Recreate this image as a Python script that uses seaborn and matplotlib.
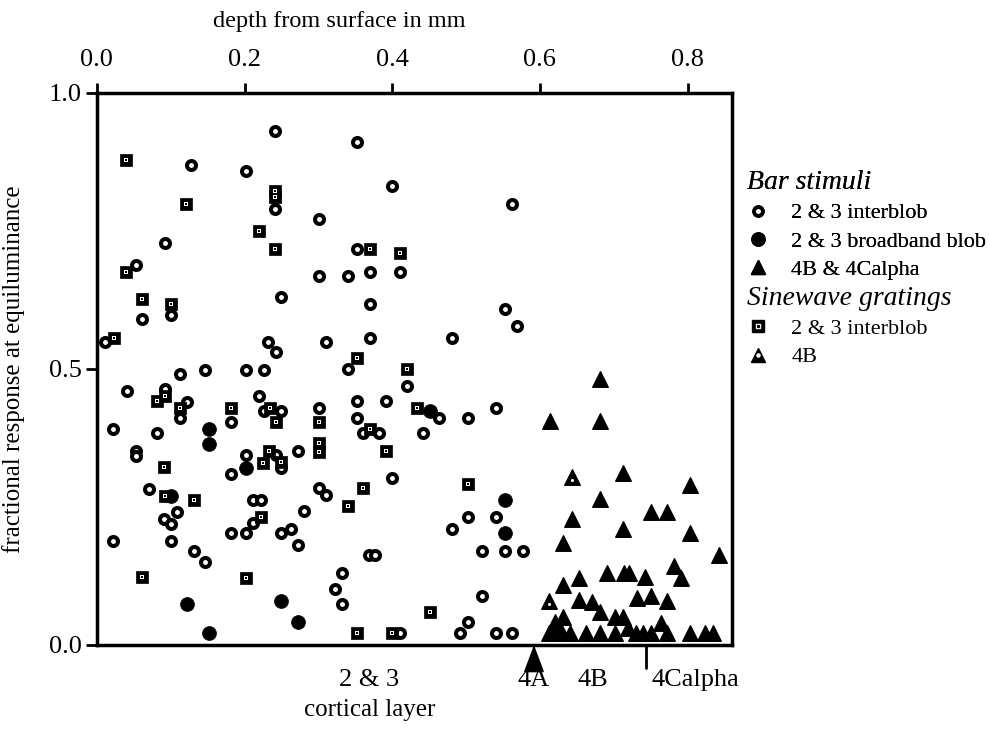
import pandas as pd
import seaborn as sns
import matplotlib.pyplot as plt
from matplotlib.lines import Line2D

# depth from surface (mm) and fractional response at equiluminance
bar_interblob_x = [0.241, 0.127, 0.202, 0.241, 0.092, 0.053, 0.250, 0.100, 0.061, 0.011, 0.232, 0.242,
                   0.112, 0.146, 0.202, 0.226, 0.041, 0.092, 0.122, 0.112, 0.182, 0.022, 0.082, 0.220,
                   0.226, 0.250, 0.053, 0.053, 0.202, 0.242, 0.250, 0.272, 0.182, 0.070, 0.212, 0.222,
                   0.281, 0.109, 0.091, 0.100, 0.212, 0.182, 0.202, 0.250, 0.263, 0.272, 0.022, 0.100,
                   0.131, 0.146,
                   0.352, 0.400, 0.562, 0.301, 0.352, 0.301, 0.340, 0.370, 0.411, 0.370, 0.553, 0.569,
                   0.310, 0.370, 0.481, 0.340, 0.420, 0.352, 0.391, 0.301, 0.463, 0.502, 0.541, 0.352,
                   0.361, 0.382, 0.442, 0.400, 0.301, 0.310, 0.502, 0.541, 0.481, 0.522, 0.553, 0.577,
                   0.369, 0.377, 0.332, 0.322, 0.332, 0.522, 0.502, 0.492, 0.541, 0.562, 0.411]
bar_interblob_y = [0.931, 0.870, 0.859, 0.789, 0.729, 0.688, 0.630, 0.597, 0.590, 0.549, 0.549, 0.530,
                   0.490, 0.498, 0.498, 0.498, 0.461, 0.463, 0.441, 0.412, 0.404, 0.391, 0.384, 0.451,
                   0.424, 0.423, 0.351, 0.342, 0.344, 0.344, 0.321, 0.351, 0.310, 0.283, 0.263, 0.263,
                   0.243, 0.241, 0.229, 0.220, 0.221, 0.202, 0.202, 0.202, 0.210, 0.181, 0.189, 0.188,
                   0.170, 0.151,
                   0.911, 0.831, 0.798, 0.771, 0.717, 0.669, 0.669, 0.676, 0.676, 0.618, 0.609, 0.578,
                   0.548, 0.557, 0.557, 0.500, 0.470, 0.442, 0.442, 0.430, 0.412, 0.412, 0.430, 0.412,
                   0.384, 0.384, 0.384, 0.302, 0.284, 0.272, 0.231, 0.231, 0.210, 0.170, 0.170, 0.170,
                   0.163, 0.163, 0.130, 0.101, 0.075, 0.088, 0.041, 0.021, 0.021, 0.021, 0.021]

bar_blob_x = [0.152, 0.152, 0.202, 0.100, 0.122, 0.250, 0.272, 0.152, 0.451, 0.553, 0.553]
bar_blob_y = [0.391, 0.364, 0.321, 0.270, 0.075, 0.080, 0.041, 0.021, 0.424, 0.263, 0.202]

bar_4b_x = [0.682, 0.614, 0.682, 0.712, 0.803, 0.682, 0.644, 0.751, 0.772, 0.712, 0.803, 0.631,
            0.843, 0.782, 0.791, 0.691, 0.714, 0.721, 0.742, 0.653, 0.631, 0.653, 0.670, 0.682,
            0.731, 0.751, 0.772, 0.702, 0.712, 0.764, 0.720, 0.621, 0.631,
            0.612, 0.621, 0.630, 0.641, 0.662, 0.682, 0.702, 0.730, 0.739, 0.750, 0.772, 0.803,
            0.823, 0.834]
bar_4b_y = [0.482, 0.405, 0.405, 0.311, 0.290, 0.264, 0.228, 0.241, 0.241, 0.210, 0.203, 0.184,
            0.163, 0.143, 0.122, 0.131, 0.131, 0.131, 0.124, 0.122, 0.109, 0.082, 0.077, 0.060,
            0.086, 0.089, 0.080, 0.050, 0.050, 0.040, 0.030, 0.042, 0.050,
            0.021, 0.021, 0.021, 0.021, 0.021, 0.021, 0.021, 0.021, 0.021, 0.021, 0.021, 0.021,
            0.021, 0.021]

sine_interblob_x = [0.040, 0.241, 0.241, 0.121, 0.220, 0.241, 0.040, 0.061, 0.100, 0.023, 0.092, 0.082,
                    0.112, 0.182, 0.234, 0.242, 0.091, 0.233, 0.225, 0.250, 0.092, 0.131, 0.222, 0.061,
                    0.202, 0.370, 0.411, 0.352, 0.420, 0.433, 0.301, 0.370, 0.301, 0.301, 0.391, 0.361,
                    0.340, 0.502, 0.451, 0.352, 0.399]
sine_interblob_y = [0.879, 0.823, 0.812, 0.798, 0.750, 0.717, 0.676, 0.626, 0.618, 0.557, 0.451, 0.442,
                    0.430, 0.430, 0.430, 0.404, 0.322, 0.352, 0.330, 0.332, 0.270, 0.263, 0.231, 0.124,
                    0.121, 0.717, 0.710, 0.519, 0.500, 0.430, 0.404, 0.392, 0.365, 0.350, 0.352, 0.284,
                    0.251, 0.292, 0.060, 0.021, 0.021]

sine_4b_x = [0.644, 0.613]
sine_4b_y = [0.304, 0.080]

layer_names = ["2 & 3", "4A", "4B", "4Calpha"]
layer_pos = [0.369, 0.592, 0.671, 0.811]
border_4a = 0.592
border_4calpha = 0.744

sns.set_style("ticks")
plt.rcParams["font.family"] = ["Liberation Serif", "DejaVu Serif"]
plt.rcParams.update({"axes.edgecolor": "black", "xtick.color": "black", "ytick.color": "black",
                     "text.color": "black", "axes.labelcolor": "black"})

fig = plt.figure(figsize=(9.89, 7.46), dpi=100)
ax = fig.add_axes([0.098, 0.1354, 0.642, 0.740])

sns.scatterplot(x=bar_interblob_x, y=bar_interblob_y, marker="o", s=42, color="white",
                edgecolor="black", linewidth=2.9, ax=ax, zorder=3)
sns.scatterplot(x=bar_blob_x, y=bar_blob_y, marker="o", s=100, color="black",
                edgecolor="black", linewidth=0.5, ax=ax, zorder=3)
sns.scatterplot(x=bar_4b_x, y=bar_4b_y, marker="^", s=125, color="black",
                edgecolor="black", linewidth=1.0, ax=ax, zorder=3)
sns.scatterplot(x=sine_interblob_x, y=sine_interblob_y, marker="s", s=85, color="black",
                edgecolor="black", linewidth=0.5, ax=ax, zorder=3)
sns.scatterplot(x=sine_interblob_x, y=sine_interblob_y, marker="s", s=11, color="white",
                linewidth=0, ax=ax, zorder=4)
sns.scatterplot(x=sine_interblob_x, y=sine_interblob_y, marker="s", s=2, color="black",
                linewidth=0, ax=ax, zorder=5)
sns.scatterplot(x=sine_4b_x, y=sine_4b_y, marker="^", s=125, color="black",
                edgecolor="black", linewidth=1.0, ax=ax, zorder=3)
sns.scatterplot(x=sine_4b_x, y=[v - 0.006 for v in sine_4b_y], marker="o", s=5, color="white",
                linewidth=0, ax=ax, zorder=4)

ax.set_xlim(0, 0.86)
ax.set_ylim(0, 1.0)
ax.xaxis.tick_top()
ax.xaxis.set_label_position("top")
ax.set_xticks([0.0, 0.2, 0.4, 0.6, 0.8])
ax.set_xticklabels(["0.0", "0.2", "0.4", "0.6", "0.8"])
ax.set_yticks([0.0, 0.5, 1.0])
ax.set_yticklabels(["0.0", "0.5", "1.0"])
ax.tick_params(axis="x", top=True, bottom=False, direction="out", length=7, width=2,
               labelsize=19, pad=9)
ax.tick_params(axis="y", left=True, right=False, direction="out", length=8, width=2,
               labelsize=19, pad=3)
for sp in ax.spines.values():
    sp.set_linewidth(2.5)
    sp.set_visible(True)

ax.set_xlabel("depth from surface in mm", fontsize=17.5)
ax.xaxis.set_label_coords(0.382, 1.12)
ax.set_ylabel("fractional response at equiluminance", fontsize=18)
ax.yaxis.set_label_coords(-0.114, 0.5)

# cortical layer markers below the axis
ax.annotate("", xy=(border_4a, 0.0), xytext=(border_4a, -0.036),
            xycoords="data", textcoords="data", annotation_clip=False,
            arrowprops=dict(arrowstyle="-|>,head_length=1.2,head_width=0.45",
                            mutation_scale=14, color="black", lw=1.5, shrinkA=0, shrinkB=0))
ax.plot([border_4calpha, border_4calpha], [0.0, -0.042], color="black", lw=2, clip_on=False)
for name, pos in zip(layer_names, layer_pos):
    ax.text(pos, -0.063, name, ha="center", va="center", fontsize=19)
ax.text(0.369, -0.118, "cortical layer", ha="center", va="center", fontsize=18)

# legends
bar_handles = [
    Line2D([], [], ls="", marker="o", ms=6.3, mfc="white", mec="black", mew=2.7),
    Line2D([], [], ls="", marker="o", ms=9.5, mfc="black", mec="black"),
    Line2D([], [], ls="", marker="^", ms=10.5, mfc="black", mec="black"),
]
bar_labels = ["2 & 3 interblob", "2 & 3 broadband blob", "4B & 4Calpha"]
sine_handles = [
    (Line2D([], [], ls="", marker="s", ms=9, mfc="black", mec="black"),
     Line2D([], [], ls="", marker="s", ms=3.3, mfc="white", mec="white"),
     Line2D([], [], ls="", marker="s", ms=1.3, mfc="black", mec="black")),
    (Line2D([], [], ls="", marker="^", ms=10.5, mfc="black", mec="black"),
     Line2D([], [], ls="", marker="o", ms=2.2, mfc="white", mec="white")),
]
sine_labels = ["2 & 3 interblob", "4B"]

leg_kw = dict(frameon=False, fontsize=16, handlelength=1.0, handletextpad=1.0,
              borderpad=0, borderaxespad=0, labelspacing=0.35, alignment="left",
              title_fontproperties={"style": "italic", "size": 20})
leg1 = fig.legend(bar_handles, bar_labels, title="Bar stimuli", loc="upper left",
                  bbox_to_anchor=(0.755, 0.772), **leg_kw)
fig.add_artist(leg1)
fig.legend(sine_handles, sine_labels, title="Sinewave gratings", loc="upper left",
           bbox_to_anchor=(0.755, 0.617), **leg_kw)

fig.savefig("out.png", dpi=100)
